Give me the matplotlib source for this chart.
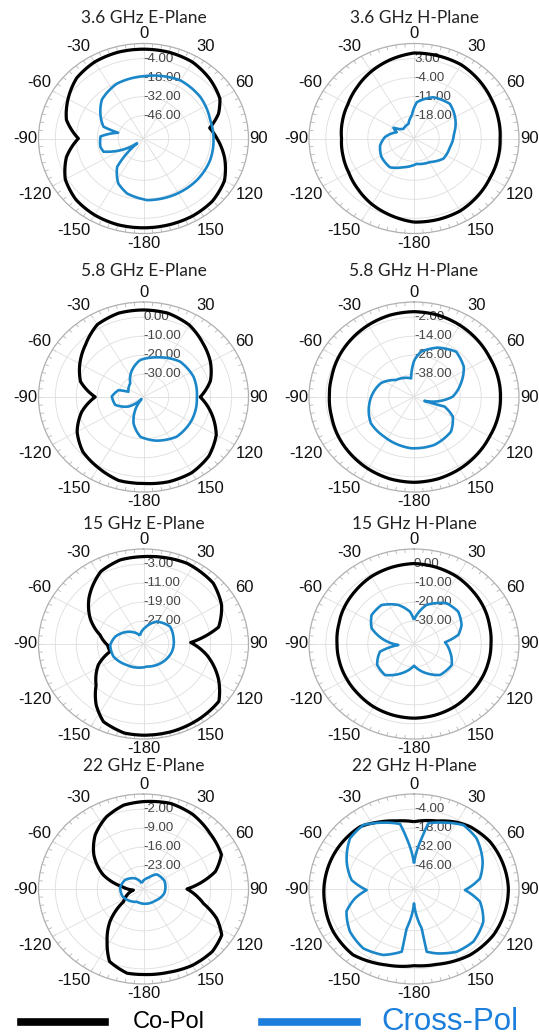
import numpy as np
import matplotlib
matplotlib.use('Agg')
import matplotlib.pyplot as plt
from matplotlib.lines import Line2D
from matplotlib.path import Path
from matplotlib.patches import PathPatch

plt.rcParams['font.family'] = ['Liberation Sans', 'DejaVu Sans']

BLUE = '#1b87c9'
W, H = 539, 1035

titles = ['3.6 GHz E-Plane', '3.6 GHz H-Plane', '5.8 GHz E-Plane', '5.8 GHz H-Plane',
          '15 GHz E-Plane', '15 GHz H-Plane', '22 GHz E-Plane', '22 GHz H-Plane']
# radial tick values (dB), outer to inner
rticks = [[-4, -18, -32, -46], [3, -4, -11, -18], [0, -10, -20, -30], [-2, -14, -26, -38],
          [-3, -11, -19, -27], [0, -10, -20, -30], [-2, -9, -16, -23], [-4, -18, -32, -46]]
theta_labels = ['0', '30', '60', '90', '120', '150', '-180', '-150', '-120', '-90', '-60', '-30']

ang15 = [-180, -165, -150, -135, -120, -105, -90, -75, -60, -45, -30, -15,
         0, 15, 30, 45, 60, 75, 90, 105, 120, 135, 150, 165]

# 3.6 GHz E-plane
e36_co_ang = [-180, -165, -150, -135, -120, -105, -90, -75, -60, -45, -30, -15,
              0, 15, 30, 45, 60, 70, 80, 90, 105, 120, 135, 150, 165]
e36_co_db = [3.0, 3.0, 2.3, 0.9, -2.6, -9.6, -19.4, -9.6, -4.7, 0.2, 2.3, 3.0,
             3.0, 3.0, 2.3, -0.5, -4.0, -9.6, -18.0, -13.8, -6.8, -0.5, 2.3, 3.0, 3.0]
e36_cx_ang = [-180, -165, -153, -140, -130, -110, -102, -87, -76, -72, -57, -44, -24,
              0, 30, 51, 73, 91, 110, 131, 154, 177]
e36_cx_db = [-18.0, -20.8, -25.7, -35.5, -57.2, -34.4, -33.4, -34.1, -45.3, -34.8, -28.5, -22.9, -18.7,
             -16.9, -13.4, -14.1, -16.3, -16.1, -15.6, -15.8, -16.5, -17.3]

# 3.6 GHz H-plane
h36_co_db = [4.4, 3.0, 1.6, 0.0, -1.3, -1.9, -2.25, -1.7, -1.0, 0.4, 2.1, 3.7,
             5.1, 5.1, 5.0, 4.1, 3.2, 2.65, 2.3, 2.5, 2.8, 3.6, 4.4, 4.5]
h36_cx_ang = [-5, 4, 23, 43, 60, 83, 105, 127, 148, 175, -161, -143, -122, -103, -87, -68,
              -60, -55, -45, -19]
h36_cx_db = [-17.9, -13.0, -9.9, -8.9, -10.6, -13.0, -14.0, -14.1, -16.2, -17.0, -15.2, -13.1,
             -13.6, -14.8, -16.7, -20.2, -18.5, -20.5, -21.4, -20.7]

# 5.8 GHz E-plane
e58_co_db = [3.5, 3.5, 1.0, -1.2, -5.5, -11.5, -19.0, -11.0, -7.0, -3.0, 2.0, 3.7,
             3.8, 3.6, 1.7, -2.0, -5.2, -9.0, -15.0, -8.5, -2.0, 2.0, 4.0, 4.2]
e58_cx_ang = [-5, 17, 43, 66, 90, 118, 143, 165, -176, -161, -150, -140, -125, -107, -89,
              -73, -69, -41, -21]
e58_cx_db = [-22.5, -20.2, -16.5, -15.9, -16.6, -16.0, -15.8, -18.2, -21.0, -27.4, -34.1, -40.5,
             -33.2, -27.9, -26.9, -29.6, -34.3, -32.4, -26.8]

# 5.8 GHz H-plane
h58_co_db = [1.5, 1.1, 0.0, -1.3, -2.5, -3.7, -4.0, -3.7, -2.5, -1.3, 0.0, 1.1,
             1.5, 1.1, 0.0, -1.3, -2.5, -2.8, -3.0, -2.8, -2.5, -1.3, 0.0, 1.1]
h58_cx_ang = [0.5, 8, 23.5, 40, 56, 72, 89.5, 112, 109, 119, 136, 159, -177, -146, -124, -99,
              -65, -44, -8]
h58_cx_db = [-29.1, -23.5, -18.4, -15.0, -18.1, -24.2, -30.3, -46.0, -34.0, -27.1, -22.0, -20.0,
             -20.0, -22.1, -22.7, -26.6, -31.6, -37.5, -40.5]

# 15 GHz E-plane
e15_co_ang = [0, 26, 46, 61, 76, 88, 101, 117, 130, 145, 163, 180, -169, -155, -145, -134,
              -117, -104, -92, -77, -62, -47, -28, -14]
e15_co_db = [0.2, 1.2, 0.3, -2.6, -7.1, -18.6, -12.0, -4.6, 0.9, 1.4, 1.8, 1.8, 1.6, -0.5,
             -5.2, -11.5, -17.3, -23.5, -22.9, -19.6, -13.6, -8.2, -2.0, -0.1]
e15_cx_ang = [-20, 5, 28, 54, 78, 107, 134, 172, -144, -115, -92, -74, -48]
e15_cx_db = [-32.8, -29.7, -25.9, -24.1, -24.9, -25.3, -26.0, -27.0, -25.7, -24.0, -23.9,
             -25.4, -28.9]

# 15 GHz H-plane
h15_co_db = [-2.95, -3.25, -3.75, -4.6, -5.05, -5.3, -5.35, -4.75, -3.6, -2.5, -1.1, -0.25,
             0.35, -0.25, -1.1, -2.5, -3.6, -4.75, -5.35, -5.3, -5.05, -4.6, -3.75, -3.25]
h15_cx_ang = [0, 16, 36, 51, 66, 77, 86.5, 103, 121.6, 142.7, 158.6, 180, -159, -139.7, -122,
              -104, -94, -79, -67.7, -53, -37, -20, -6.4]
h15_cx_db = [-29.3, -20.6, -15.5, -14.9, -17.2, -20.3, -27.2, -24.4, -20.9, -21.5, -25.4, -30.6,
             -25.5, -20.6, -21.3, -25.3, -34.5, -26.3, -20.2, -16.7, -16.3, -20.1, -24.9]

# 22 GHz E-plane
e22_co_ang = [0, 16, 31, 47, 64, 75, 90, 105, 114, 123, 135, 150, 165, 180, -170, -157, -148,
              -137, -125, -97, -83, -69, -53, -39, -25, -12]
e22_co_db = [0.8, 1.4, 0.6, -1.2, -2.5, -6.6, -16.9, -10.7, -4.7, -0.3, 1.1, 1.1, 0.4, 0.1,
             0.1, -2.4, -8.5, -15.0, -23.3, -28.0, -24.2, -17.1, -10.7, -5.8, -2.1, 0.2]
e22_cx_ang = [-15, 22, 39.5, 67, 103, 138, -155, -112, -86, -61.5, -35]
e22_cx_db = [-29.2, -26.9, -24.4, -23.8, -24.3, -25.6, -26.2, -23.9, -23.6, -24.4, -26.6]

# 22 GHz H-plane
h22_co_ang = [0, 17, 30, 39, 55.5, 73, 89.5, 105, 122.6, 142.5, 165, 180, -162, -140, -120,
              -101, -78, -57, -38, -25, -13]
h22_co_db = [-13.2, -10.4, -6.0, -3.6, -1.3, -0.6, 0.1, 0.1, 0.1, -1.5, -5.3, -6.3, -3.9, 0.5,
             -0.5, -2.3, -3.2, -3.8, -4.5, -8.3, -11.3]
h22_cx_ang = [0, 7.8, 11.2, 21.8, 35, 48, 66, 80, 91.3, 102, 117.5, 134.4, 148.4, 162.3, 169.6,
              170, 180, -170.4, -170, -157, -142.3, -126.4, -110, -100, -91.4, -81, -65.8,
              -48.8, -35.6, -22.7, -11, -7.5]
h22_cx_db = [-43.9, -25.1, -13.4, -10.1, -5.3, -6.8, -12.7, -18.1, -28.8, -17.8, -10.7, -7.4,
             -8.5, -13.0, -15.8, -33.4, -52.2, -33.4, -15.9, -10.0, -7.5, -9.8, -14.9, -22.8,
             -31.2, -20.7, -13.6, -6.1, -4.8, -9.8, -14.0, -25.1]

panels = [
    ((e36_co_ang, e36_co_db), (e36_cx_ang, e36_cx_db)),
    ((ang15, h36_co_db), (h36_cx_ang, h36_cx_db)),
    ((ang15, e58_co_db), (e58_cx_ang, e58_cx_db)),
    ((ang15, h58_co_db), (h58_cx_ang, h58_cx_db)),
    ((e15_co_ang, e15_co_db), (e15_cx_ang, e15_cx_db)),
    ((ang15, h15_co_db), (h15_cx_ang, h15_cx_db)),
    ((e22_co_ang, e22_co_db), (e22_cx_ang, e22_cx_db)),
    ((h22_co_ang, h22_co_db), (h22_cx_ang, h22_cx_db)),
]

col_x = [143.5, 414]
row_y = [138.5, 397, 644, 889]
title_y = [1.136, 1.163, 1.13, 1.145]
RX, RY = 105, 95

fig = plt.figure(figsize=(W / 100, H / 100), dpi=100)

for i, (co, cx) in enumerate(panels):
    row, col = divmod(i, 2)
    x0, y0 = col_x[col], row_y[row]
    ax = fig.add_axes([(x0 - RX) / W, 1 - (y0 + RY) / H, 2 * RX / W, 2 * RY / H],
                      projection='polar')
    ticks = rticks[i]
    step = ticks[0] - ticks[1]
    lo = ticks[-1] - 1.2 * step
    hi = ticks[0] + 0.8 * step
    ax.set_theta_zero_location('N')
    ax.set_theta_direction(-1)
    ax.set_xticks(np.deg2rad(np.arange(0, 360, 30)))
    ax.set_xticklabels([])
    ax.set_yticks(ticks)
    ax.set_yticklabels([])
    ax.tick_params(length=0)
    ax.grid(True, color='#dedede', lw=0.6)
    ax.spines['polar'].set_color('#b0b0b0')
    ax.spines['polar'].set_linewidth(0.9)
    ax.set_ylim(lo, hi)

    # small ticks round the rim
    for a in np.arange(0, 360, 5):
        t = np.deg2rad(a)
        ax.plot([t, t], [hi - 0.035 * (hi - lo), hi], color='#b8b8b8', lw=0.6, zorder=1)

    for v in ticks:
        ax.text(0, v, f'{v:.2f}', ha='left', va='center', fontsize=9.5, color='#444444', zorder=2)

    # straight segments in (theta, r), drawn by the polar transform as arcs
    for (ang, db), color, lw in ((co, 'black', 2.3), (cx, BLUE, 1.9)):
        a = list(ang) + [ang[0]]
        r = list(db) + [db[0]]
        th = np.unwrap(np.deg2rad(a))
        path = Path(np.column_stack([th, r]), _interpolation_steps=30)
        ax.add_patch(PathPatch(path, fill=False, edgecolor=color, lw=lw,
                               joinstyle='round', zorder=3))

    for k, lab in enumerate(theta_labels):
        t = np.deg2rad(30 * k)
        s, c = np.sin(t), np.cos(t)
        ha = 'left' if s > 0.3 else ('right' if s < -0.3 else 'center')
        va = 'bottom' if c > 0.3 else ('top' if c < -0.3 else 'center')
        ax.text(0.5 + (0.5 + 1 / (2 * RX)) * s, 0.5 + (0.5 + 2 / (2 * RY)) * c, lab,
                transform=ax.transAxes, ha=ha, va=va, fontsize=12, color='#111111')

    ax.text(0.5, title_y[row], titles[i], transform=ax.transAxes, ha='center', va='center',
            fontsize=12.5, family=['Lato', 'DejaVu Sans'], color='#222222')
    ax.set_aspect('auto')

# legend
ly = 1 - 1022 / H
fig.add_artist(Line2D([21 / W, 105 / W], [ly, ly], color='black', lw=5.5))
fig.text(133 / W, ly, 'Co-Pol', ha='left', va='center', fontsize=17, color='black')
fig.add_artist(Line2D([262 / W, 357 / W], [ly, ly], color='#1d7fdc', lw=5.5))
fig.text(381 / W, ly, 'Cross-Pol', ha='left', va='center', fontsize=22.5, color='#1d7fdc')

fig.savefig('out.png', dpi=100)
